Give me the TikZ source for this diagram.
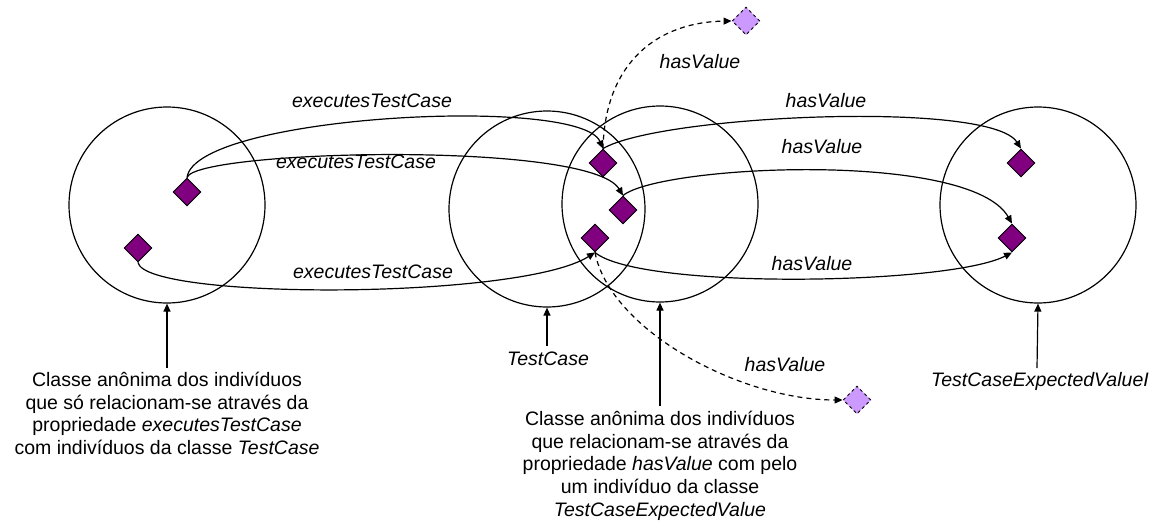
\documentclass[tikz,border=0pt]{standalone}
\usepackage{fontspec}
\setmainfont{Liberation Sans}
\usetikzlibrary{shapes.geometric,arrows.meta}
\begin{document}
\begin{tikzpicture}[x=1pt,y=-1pt,
  every node/.style={font=\fontsize{19.5pt}{22.7pt}\selectfont},
  setc/.style={circle,draw,line width=1.2pt,minimum size=196pt,inner sep=0pt},
  indiv/.style={diamond,draw,line width=0.9pt,fill={rgb,255:red,128;green,0;blue,128},minimum size=28pt,inner sep=0pt},
  extind/.style={diamond,draw,dashed,line width=0.9pt,fill={rgb,255:red,204;green,153;blue,255},minimum size=28pt,inner sep=0pt},
  rel/.style={line width=1.2pt,-{Triangle[length=8pt,width=7pt]}},
  drel/.style={rel,dashed,dash pattern=on 5pt off 4pt},
  lbl/.style={font=\fontsize{19.5pt}{22.7pt}\selectfont\itshape,inner sep=0pt},
  txt/.style={align=center,inner sep=0pt}]
\useasboundingbox (0,0) rectangle (1160,531);
% circles
\node[setc] (cA) at (167,205) {};
\node[setc] (cT) at (547,209) {};
\node[setc] (cH) at (660,204) {};
\node[setc] (cE) at (1038,205) {};
% individuals
\node[indiv] (d1) at (187,192) {};
\node[indiv] (d2) at (138,248) {};
\node[indiv] (da) at (603,163) {};
\node[indiv] (db) at (623,210) {};
\node[indiv] (dc) at (595,238) {};
\node[indiv] (de) at (1021,163) {};
\node[indiv] (df) at (1012,238) {};
\node[extind] (x1) at (746,21) {};
\node[extind] (x2) at (857,400) {};
% relations
\draw[rel] (d1.north) .. controls (195,115) and (580,95) .. (da.north);
\draw[rel] (d1.north) .. controls (195,150) and (590,140) .. (db.north);
\draw[rel] (d2.south) .. controls (145,300) and (520,300) .. (dc.south);
\draw[rel] (da.north) .. controls (660,115) and (990,100) .. (de.north);
\draw[rel] (db.north) .. controls (660,165) and (970,150) .. (df.north);
\draw[rel] (dc.south) .. controls (640,290) and (950,285) .. (df.south);
\draw[drel] (da.north) .. controls (605,60) and (660,22) .. (x1.west);
\draw[drel] (dc.south) .. controls (610,330) and (740,400) .. (x2.west);
% relation labels
\node[lbl] at (372,101) {executesTestCase};
\node[lbl] at (356,162) {executesTestCase};
\node[lbl] at (373,272) {executesTestCase};
\node[lbl] at (826,101) {hasValue};
\node[lbl] at (822,147) {hasValue};
\node[lbl] at (812,264) {hasValue};
\node[lbl] at (700,62) {hasValue};
\node[lbl] at (785,365) {hasValue};
% descriptions
\node[txt,anchor=north] (tA) at (167,372) {Classe anônima dos indivíduos\\que só relacionam-se através da\\propriedade \textit{executesTestCase}\\com indivíduos da classe \textit{TestCase}};
\node[lbl,anchor=north] (tT) at (548,352) {TestCase};
\node[txt,anchor=north] (tH) at (660,411) {Classe anônima dos indivíduos\\que relacionam-se através da\\propriedade \textit{hasValue} com pelo\\um indivíduo da classe\\\textit{TestCaseExpectedValue}};
\node[lbl,anchor=north] (tE) at (1040,372) {TestCaseExpectedValueI};
\draw[rel] (167,368) -- (cA.south);
\draw[rel] (547,346) -- (cT.south);
\draw[rel] (660,406) -- (cH.south);
\draw[rel] (1037,368) -- (cE.south);
\end{tikzpicture}
\end{document}
